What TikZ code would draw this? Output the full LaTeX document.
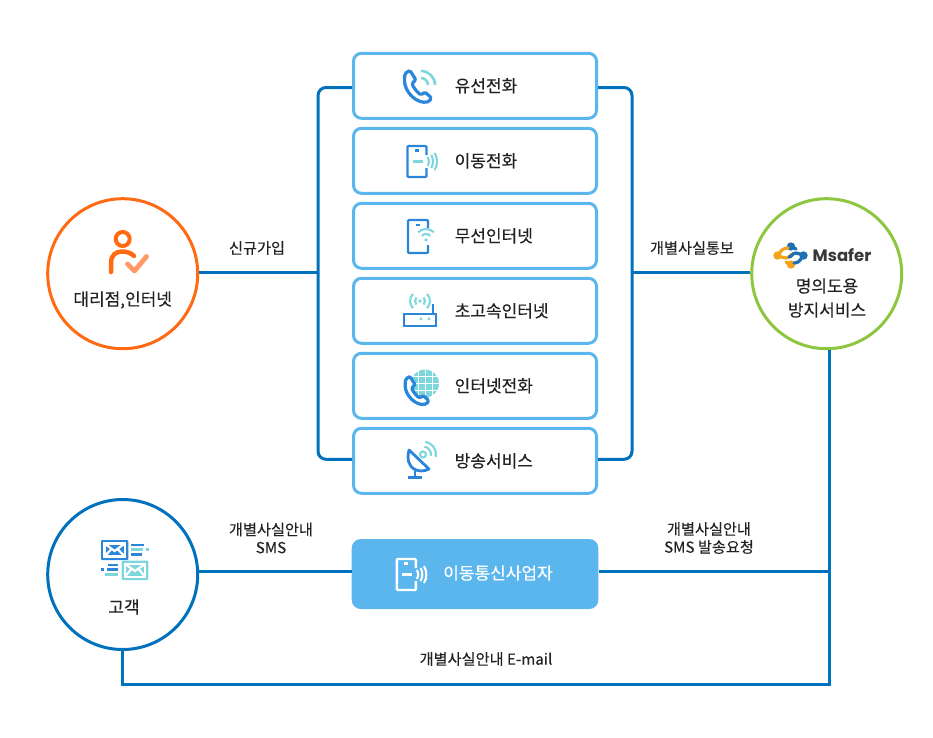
\documentclass[tikz,border=0pt]{standalone}
\usepackage{fontspec}
\setmainfont[FakeBold=0.2]{Noto Sans CJK KR}
\newfontfamily\logofont{Poppins}
\usetikzlibrary{positioning}
\definecolor{linkblue}{HTML}{0071BC}
\definecolor{boxblue}{HTML}{5CB6EE}
\definecolor{iconblue}{HTML}{2B85D9}
\definecolor{iconteal}{HTML}{7DD6DC}
\definecolor{agentorange}{HTML}{FF6A13}
\definecolor{checkorange}{HTML}{FF9A66}
\definecolor{safergreen}{HTML}{8DC63F}
\definecolor{logoorange}{HTML}{F7A21B}
\definecolor{logoblue}{HTML}{1F6FB5}
\definecolor{inkgray}{HTML}{222222}
\tikzset{
	svc box/.style={draw=boxblue,line width=3pt,rounded corners=8pt,minimum width=243pt,minimum height=65pt,inner sep=0pt},
	svc text/.style={anchor=west,inner sep=0pt,text=inkgray,font=\fontsize{17}{20}\selectfont},
	main circle/.style={circle,line width=3pt,minimum size=150pt,inner sep=0pt},
	circle text/.style={inner sep=0pt,text=inkgray,align=center,font=\fontsize{17}{24}\selectfont},
	edge text/.style={inner sep=0pt,text=inkgray,align=center,font=\fontsize{15.2}{18}\selectfont},
	link/.style={draw=linkblue,line width=3pt},
	pics/handset/.style={code={
		\draw[iconblue,fill=white,line width=3.2pt,line join=round,rounded corners=1.5pt]
		(-10,-15.5) -- (-8,-16.5) -- (-2,-7) -- (-6,-4) .. controls (-5,0) and (-1,5) .. (3,8)
		-- (7,5) -- (13.5,11) -- (11,14.5) .. controls (0,17.5) and (-13.5,6) .. (-13.5,-8) -- (-13,-13.5) -- cycle;
	}},
	pics/mobile/.style 2 args={code={
		\draw[#1,line width=2.4pt,rounded corners=1pt] (9.5,-6.5) |- (-9.5,-15.5) |- (9.5,15.5) -- (9.5,6.5);
		\draw[#1,line width=2.4pt] (-2,-11) -- (2,-11);
		\draw[#2,line width=2.2pt] (-4,0) -- (6,0);
		\foreach \rad in {9,13,17}
		\draw[#2,line width=2.1pt] (3,0) ++(-30:\rad) arc[start angle=-30,end angle=30,radius=\rad];
	}},
}

\begin{document}
\begin{tikzpicture}[x=1pt,y=-1pt]
	\useasboundingbox (0,0) rectangle (933,737);

	%% service boxes
	\node[svc box] (wired) at (475,85.8) {};
	\node[svc box] (mobile) [below=7pt of wired] {};
	\node[svc box] (wireless) [below=7pt of mobile] {};
	\node[svc box] (broadband) [below=7pt of wireless] {};
	\node[svc box] (voip) [below=7pt of broadband] {};
	\node[svc box] (broadcast) [below=7pt of voip] {};

	\node[svc text] (wiredtext) at ([xshift=102.5pt,yshift=0pt]wired.west) {유선전화};
	\node[svc text] (mobiletext) at ([xshift=102.5pt,yshift=0pt]mobile.west) {이동전화};
	\node[svc text] (wirelesstext) at ([xshift=102.5pt,yshift=0pt]wireless.west) {무선인터넷};
	\node[svc text] (broadbandtext) at ([xshift=102.5pt,yshift=0pt]broadband.west) {초고속인터넷};
	\node[svc text] (voiptext) at ([xshift=102.5pt,yshift=0pt]voip.west) {인터넷전화};
	\node[svc text] (broadcasttext) at ([xshift=102.5pt,yshift=0pt]broadcast.west) {방송서비스};

	%% circles and carrier
	\node[main circle,draw=agentorange] (agency) at (122.7,273.7) {};
	\node[main circle,draw=safergreen] (msafer) at (826.7,273.7) {};
	\node[main circle,draw=linkblue] (customer) at (122.7,574.5) {};
	\node[fill=boxblue,rounded corners=9pt,minimum width=246.6pt,minimum height=70pt,inner sep=0pt] (carrier) at (475,574) {};

	\node[circle text] (agencytext) at (122.7,300) {대리점,인터넷};
	\node[circle text] (msafertext) at (827,298) {명의도용\\방지서비스};
	\node[circle text] (customertext) at (124,607) {고객};
	\node[circle text,text=white] (carriertext) at (498,573) {이동통신사업자};

	%% connectors
	\coordinate (leftbus) at (318,272.3);
	\coordinate (rightbus) at (632,272.3);
	\coordinate (topline) at (0,87.5);
	\coordinate (botline) at (0,459.3);
	\coordinate (smsrow) at (0,571.3);
	\coordinate (trunk) at (829.3,684.3);

	\draw[link,rounded corners=8pt] (wired.west |- topline) -| (leftbus) |- (broadcast.west |- botline);
	\draw[link,rounded corners=8pt] (wired.east |- topline) -| (rightbus) |- (broadcast.east |- botline);
	\draw[link] (agency.east |- leftbus) -- (leftbus);
	\draw[link] (rightbus) -- (msafer.west |- rightbus);
	\draw[link] (customer.east |- smsrow) -- (carrier.west |- smsrow);
	\draw[link] (carrier.east |- smsrow) -- (trunk |- smsrow);
	\draw[link] (customer.south) |- (trunk) -- (trunk |- msafer.south);

	\node[edge text] (jointext) at (257,248) {신규가입};
	\node[edge text] (reporttext) at (692,248) {개별사실통보};
	\node[edge text] (smstext) at (271,538) {개별사실안내\\SMS};
	\node[edge text] (requesttext) at (709,538) {개별사실안내\\SMS 발송요청};
	\node[edge text] (mailtext) at (486,659) {개별사실안내 E-mail};

	%% icons
	\pic at (418,87) {handset};
	\draw[iconteal,line width=2.6pt] (421,85) ++(-90:7) arc[start angle=-90,end angle=0,radius=7];
	\draw[iconteal,line width=2.6pt] (421,85) ++(-90:14) arc[start angle=-90,end angle=0,radius=14];

	\pic at (417,161.5) {mobile={iconblue}{iconteal}};

	\draw[iconblue,line width=2.4pt,rounded corners=1pt] (428,228) |- (408,220) |- (428,253) -- (428,245);
	\draw[iconblue,line width=2.4pt] (415.5,225) -- (419.5,225);
	\fill[iconteal] (426,240) circle (1.9pt);
	\draw[iconteal,line width=2.1pt] (426,240) ++(-135:6) arc[start angle=-135,end angle=-45,radius=6];
	\draw[iconteal,line width=2.1pt] (426,240) ++(-135:11) arc[start angle=-135,end angle=-45,radius=11];

	\draw[iconblue,line width=2.8pt] (404,314) rectangle (436,326);
	\draw[iconblue,line width=2.8pt] (433,304) -- (433,314);
	\fill[iconteal] (421,318.8) circle (1.7pt) (429,318.8) circle (1.7pt);
	\fill[iconteal] (420,301) circle (1.8pt);
	\foreach \rad in {5,10} {
		\draw[iconteal,line width=2.1pt] (420,301) ++(-45:\rad) arc[start angle=-45,end angle=45,radius=\rad];
		\draw[iconteal,line width=2.1pt] (420,301) ++(135:\rad) arc[start angle=135,end angle=225,radius=\rad];
	}

	\fill[iconteal] (425,383.5) circle (14pt);
	\foreach \dx in {-7,0,7} \draw[white,line width=1pt] (425+\dx,369.5) -- (425+\dx,397.5);
	\foreach \dy in {-7,0,7} \draw[white,line width=1pt] (411,383.5+\dy) -- (439,383.5+\dy);
	\pic[scale=0.88] at (417,391) {handset};

	\draw[iconteal,line width=2.1pt] (423,454.5) circle (3pt);
	\draw[iconteal,line width=2.1pt] (423,454.5) ++(-80:8) arc[start angle=-80,end angle=10,radius=8];
	\draw[iconteal,line width=2.1pt] (423,454.5) ++(-80:13) arc[start angle=-80,end angle=10,radius=13];
	\draw[iconblue,line width=2.8pt,line join=round] (409,450) -- (429,469) .. controls (420,474) and (404,470) .. (409,450) -- cycle;
	\draw[iconblue,line width=2.8pt] (415,471) -- (415,477) (408,477.5) -- (422,477.5);

	\draw[agentorange,line width=4pt] (122.7,239) circle (7pt);
	\draw[agentorange,line width=4.5pt,line cap=round] (111,272) -- (111,263) .. controls (111,255) and (116,251.5) .. (122,251.5) .. controls (127,251.5) and (131,253) .. (134,256);
	\draw[checkorange,line width=4.8pt,line cap=round,line join=round] (127.5,264) -- (134.5,271) -- (146.5,256.5);

	\foreach \ax/\ay in {777.5/255.5,791/264.5} \fill[logoorange] (\ax,\ay) circle (4.2pt);
	\foreach \ax/\ay in {791/246.5,803.5/255.5} \fill[logoblue] (\ax,\ay) circle (4.2pt);
	\draw[logoorange,line width=3.2pt,line cap=round] (779,254) .. controls (781,250) and (784,248) .. (788,248);
	\draw[logoorange,line width=3.2pt,line cap=round] (781,257) -- (786,258) .. controls (790,258) and (790,254) .. (793,254);
	\draw[logoorange,line width=3.2pt,line cap=round] (786,262) -- (789,264);
	\draw[logoblue,line width=3.2pt,line cap=round] (802,257) .. controls (800,261) and (798,263) .. (794,263);
	\draw[logoblue,line width=3.2pt,line cap=round] (800,254) -- (796,253) .. controls (792,253) and (792,257) .. (789,257);
	\draw[logoblue,line width=3.2pt,line cap=round] (796,249) -- (793,247.5);
	\node[inner sep=0pt,text=inkgray!90,font=\logofont\bfseries\fontsize{16.5}{18}\selectfont] (logotext) at (842,255.5) {Msafer};

	\fill[iconblue,rounded corners=1pt] (101,540) rectangle (128.3,560);
	\draw[white,line width=2.2pt] (104.5,543.5) rectangle (124.8,556.5);
	\draw[white,line width=2.2pt] (104.5,543.5) -- (114.6,551) -- (124.8,543.5) (104.5,556.5) -- (111,549.5) (124.8,556.5) -- (118,549.5);
	\fill[iconteal,rounded corners=1pt] (121.7,560.7) rectangle (148.3,580);
	\draw[white,line width=2.2pt] (125,564) rectangle (145,576.7);
	\draw[white,line width=2.2pt] (125,564) -- (135,571) -- (145,564) (125,576.7) -- (131,569.5) (145,576.7) -- (139,569.5);
	\draw[iconblue,line width=2.6pt] (131,545) -- (144,545) (131,554.5) -- (142,554.5) (108,565) -- (118,565) (107,569.5) -- (118,569.5) (101,569.5) -- (104,569.5);
	\draw[iconteal,line width=2.6pt] (131,549.7) -- (143,549.7) (146,549.7) -- (148.5,549.7) (105,574.3) -- (118,574.3);

	\pic at (406.3,574.5) {mobile={white}{white}};
\end{tikzpicture}
\end{document}
